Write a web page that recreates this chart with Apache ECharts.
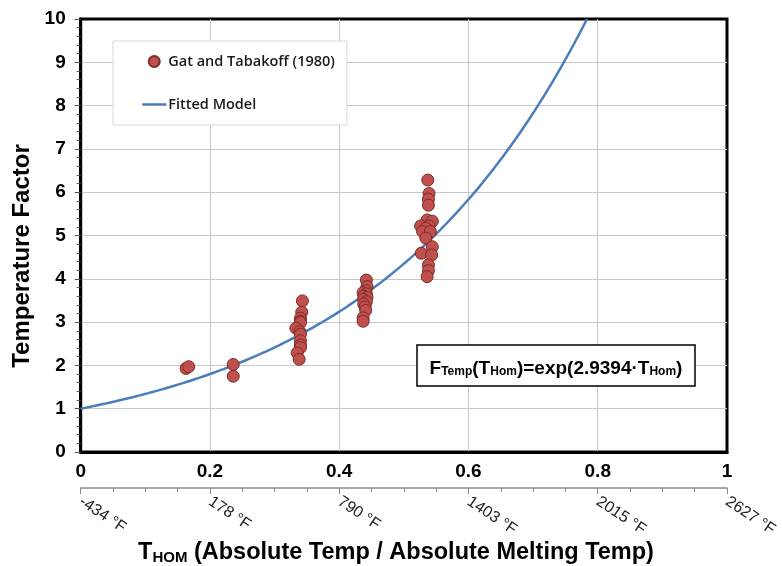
<!DOCTYPE html>
<html>
<head>
<meta charset="utf-8">
<script src="https://cdn.jsdelivr.net/npm/echarts@6/dist/echarts.min.js"></script>
<style>
  html, body { margin: 0; padding: 0; background: #fff; }
  #chart { width: 782px; height: 566px; }
</style>
</head>
<body>
<div id="chart"></div>
<script>
// Gat and Tabakoff (1980): homologous temperature vs. temperature factor
const gatThom = [
  0.163, 0.167,
  0.236, 0.236,
  0.343, 0.342, 0.340, 0.340, 0.340, 0.333, 0.339, 0.340, 0.340, 0.340, 0.340, 0.335, 0.338,
  0.442, 0.443, 0.441, 0.437, 0.442, 0.438, 0.443, 0.438, 0.442, 0.438, 0.440, 0.441, 0.437, 0.437,
  0.537, 0.539, 0.538, 0.538, 0.536, 0.544, 0.526, 0.539, 0.534, 0.529, 0.541, 0.534, 0.544, 0.527, 0.543, 0.538, 0.538, 0.536
];
const gatFactor = [
  1.93, 1.97,
  2.02, 1.75,
  3.49, 3.23, 3.09, 3.02, 2.99, 2.86, 2.78, 2.72, 2.57, 2.47, 2.41, 2.29, 2.14,
  3.97, 3.82, 3.73, 3.68, 3.65, 3.60, 3.57, 3.52, 3.47, 3.42, 3.35, 3.27, 3.10, 3.02,
  6.28, 5.97, 5.84, 5.70, 5.36, 5.33, 5.22, 5.22, 5.17, 5.09, 5.09, 4.94, 4.74, 4.59, 4.55, 4.32, 4.19, 4.05
];

// Fitted model F(T) = exp(k * T)
const FIT_COEF = 2.9394;

// Homologous temperature ticks and the matching absolute temperatures
const thomTicks = [0, 0.2, 0.4, 0.6, 0.8, 1];
const fahrenheitLabels = ['-434 °F', '178 °F', '790 °F', '1403 °F', '2015 °F', '2627 °F'];

const Y_MAX = 10;

// Sample the model curve up to where it leaves the plot at the top
const fitEnd = Math.log(Y_MAX) / FIT_COEF;
const fitLine = [];
const STEPS = 120;
for (let i = 0; i <= STEPS; i++) {
  const t = fitEnd * i / STEPS;
  fitLine.push([t, Math.exp(FIT_COEF * t)]);
}

const scatterData = gatThom.map((t, i) => [t, gatFactor[i]]);

const FONT = '"Liberation Sans", Arial, sans-serif';
const LEGEND_FONT = '"Open Sans", "Noto Sans", sans-serif';
const gridGray = '#c8c8c8';
const lineBlue = '#4a7ebb';

const chart = echarts.init(document.getElementById('chart'), null, { renderer: 'canvas' });

chart.setOption({
  backgroundColor: '#ffffff',
  animation: false,
  grid: {
    left: 80.7, right: 55, top: 19, bottom: 114,
    show: true, borderColor: '#000', borderWidth: 3, backgroundColor: 'transparent'
  },
  legend: {
    orient: 'vertical',
    left: 113, top: 41,
    padding: [13, 12, 13, 28],
    itemGap: 28,
    itemWidth: 24, itemHeight: 11,
    backgroundColor: '#fff',
    borderColor: '#d9d9d9', borderWidth: 1,
    textStyle: { fontFamily: LEGEND_FONT, fontWeight: 600, fontSize: 14.5, color: '#1a1a1a', padding: [0, 0, 0, -3] },
    data: [
      { name: 'Gat and Tabakoff (1980)', icon: 'circle' },
      {
        name: 'Fitted Model',
        itemStyle: { color: 'rgba(0,0,0,0)', borderColor: 'rgba(0,0,0,0)', borderWidth: 0, opacity: 0 },
        lineStyle: { color: lineBlue, width: 2.5 }
      }
    ]
  },
  xAxis: [
    {
      type: 'value', min: 0, max: 1, interval: 0.2,
      position: 'bottom',
      axisLine: { show: true, lineStyle: { color: '#000', width: 3 } },
      axisTick: { show: false },
      axisLabel: {
        margin: 10, fontFamily: FONT, fontWeight: 'bold', fontSize: 19, color: '#000',
        formatter: v => String(Math.round(v * 10) / 10)
      },
      splitLine: { show: true, showMinLine: false, showMaxLine: false, lineStyle: { color: gridGray, width: 1 } }
    },
    {
      type: 'value', min: 0, max: 1, interval: 0.2,
      position: 'bottom', offset: 36,
      axisLine: { show: true, lineStyle: { color: '#8a8a8a', width: 1.5 } },
      axisTick: { show: true, length: 6, lineStyle: { color: '#8a8a8a', width: 1 } },
      minorTick: { show: true, splitNumber: 4, length: 4, lineStyle: { color: '#8a8a8a', width: 1 } },
      axisLabel: {
        rotate: -34, margin: 12, fontFamily: FONT, fontSize: 16, color: '#222',
        formatter: v => {
          const idx = thomTicks.findIndex(t => Math.abs(t - v) < 1e-6);
          return idx >= 0 ? fahrenheitLabels[idx] : '';
        }
      },
      splitLine: { show: false }
    }
  ],
  yAxis: {
    type: 'value', min: 0, max: Y_MAX, interval: 1,
    axisLine: { show: true, lineStyle: { color: '#000', width: 3 } },
    axisTick: { show: true, length: 6, lineStyle: { color: '#555', width: 1 } },
    minorTick: { show: true, splitNumber: 5, length: 4, lineStyle: { color: '#555', width: 1 } },
    axisLabel: { margin: 15, fontFamily: FONT, fontWeight: 'bold', fontSize: 19, color: '#000' },
    splitLine: { show: true, showMinLine: false, showMaxLine: false, lineStyle: { color: gridGray, width: 1 } }
  },
  series: [
    {
      name: 'Fitted Model',
      type: 'line',
      xAxisIndex: 0,
      data: fitLine,
      symbol: 'none',
      smooth: false,
      lineStyle: { color: lineBlue, width: 2.5 },
      itemStyle: { color: lineBlue },
      z: 2
    },
    {
      name: 'Gat and Tabakoff (1980)',
      type: 'scatter',
      xAxisIndex: 0,
      data: scatterData,
      symbol: 'circle',
      symbolSize: 12,
      itemStyle: { color: '#c0504d', borderColor: '#7d2b29', borderWidth: 1, opacity: 1 },
      z: 3
    }
  ],
  graphic: [
    {
      type: 'text',
      rotation: Math.PI / 2,
      x: 22, y: 256,
      style: {
        text: 'Temperature Factor',
        fontFamily: FONT, fontWeight: 'bold', fontSize: 24, fill: '#000',
        align: 'center', verticalAlign: 'middle'
      }
    },
    {
      type: 'text',
      x: 396, y: 551,
      style: {
        text: '{b|T}{s|HOM}{b| (Absolute Temp / Absolute Melting Temp)}',
        align: 'center', verticalAlign: 'middle',
        rich: {
          b: { fontFamily: FONT, fontWeight: 'bold', fontSize: 23.5, fill: '#000', lineHeight: 28, verticalAlign: 'bottom' },
          s: { fontFamily: FONT, fontWeight: 'bold', fontSize: 15, fill: '#000', lineHeight: 14, verticalAlign: 'bottom' }
        }
      }
    },
    {
      // Equation box drawn above the gridlines
      type: 'group',
      x: 417, y: 345,
      z: 100,
      children: [
        {
          type: 'rect',
          z: 100,
          shape: { x: 0, y: 0, width: 278, height: 41 },
          style: { fill: '#fff', stroke: '#000', lineWidth: 1.5 }
        },
        {
          type: 'text',
          z: 101,
          x: 139, y: 21,
          style: {
            text: '{b|F}{s|Temp}{b|(T}{s|Hom}{b|)=exp(2.9394·T}{s|Hom}{b|)}',
            align: 'center', verticalAlign: 'middle',
            rich: {
              b: { fontFamily: FONT, fontWeight: 'bold', fontSize: 19, fill: '#000', lineHeight: 24, verticalAlign: 'bottom' },
              s: { fontFamily: FONT, fontWeight: 'bold', fontSize: 12, fill: '#000', lineHeight: 11, verticalAlign: 'bottom' }
            }
          }
        }
      ]
    }
  ]
});
</script>
</body>
</html>
